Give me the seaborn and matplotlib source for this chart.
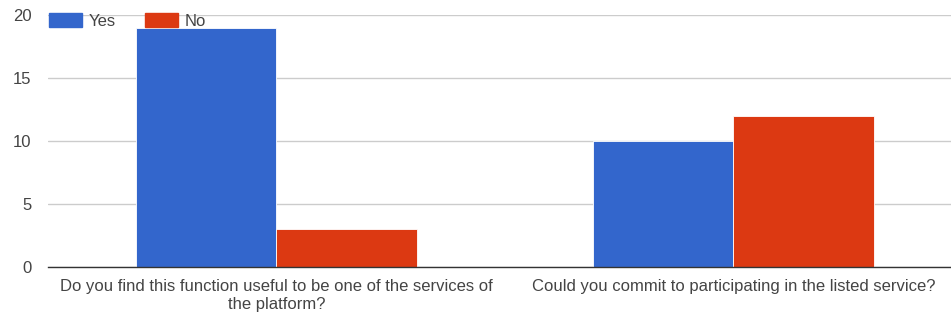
import matplotlib
matplotlib.use("Agg")
import matplotlib.pyplot as plt
import seaborn as sns
import pandas as pd
from matplotlib.patches import Patch

categories = ["Do you find this function useful to be one of the services of\nthe platform?",
              "Could you commit to participating in the listed service?"]
yes_values = [19, 10]
no_values = [3, 12]
series = ["Yes", "No"]
colors = ["#3366cc", "#dc3912"]

df = pd.DataFrame({
    "q": categories * 2,
    "answer": ["Yes"] * 2 + ["No"] * 2,
    "count": yes_values + no_values,
})

sns.set_theme(style="white")
plt.rcParams['font.family'] = ['Arial', 'Liberation Sans', 'DejaVu Sans']

fig = plt.figure(figsize=(9.51, 3.2), dpi=100)
ax = fig.add_axes([48/951, (320-267)/320, (951-48)/951, (267-15)/320])

sns.barplot(data=df, x="q", y="count", hue="answer", hue_order=series,
            palette=colors, width=0.615, ax=ax, saturation=1, legend=False,
            edgecolor="white", linewidth=0.6)

ax.set_xlim(-0.5, 1.476)
ax.set_ylim(0, 20)
ax.set_yticks([0, 5, 10, 15, 20])
ax.yaxis.grid(True, color="#cccccc", linewidth=1)
ax.set_axisbelow(True)
for s in ["top", "right", "left"]:
    ax.spines[s].set_visible(False)
ax.spines["bottom"].set_color("#333333")
ax.spines["bottom"].set_linewidth(1)
ax.set_xlabel("")
ax.set_ylabel("")
ax.tick_params(axis="both", length=0, labelsize=12, colors="#444444")
ax.tick_params(axis="y", pad=12)
ax.tick_params(axis="x", pad=8.5)
for lbl in ax.get_xticklabels():
    lbl.set_linespacing(1.3)

handles = [Patch(facecolor=c, edgecolor=c) for c in colors]
leg = fig.legend(handles, series, loc="upper left", bbox_to_anchor=(49/951, 1.0 - 13/320),
                 ncol=2, frameon=False, fontsize=12, handlelength=2.0, handleheight=0.9,
                 handletextpad=0.38, columnspacing=1.75, labelcolor="#444444",
                 borderaxespad=0, borderpad=0)

fig.savefig("out.png", dpi=100, facecolor="white")
